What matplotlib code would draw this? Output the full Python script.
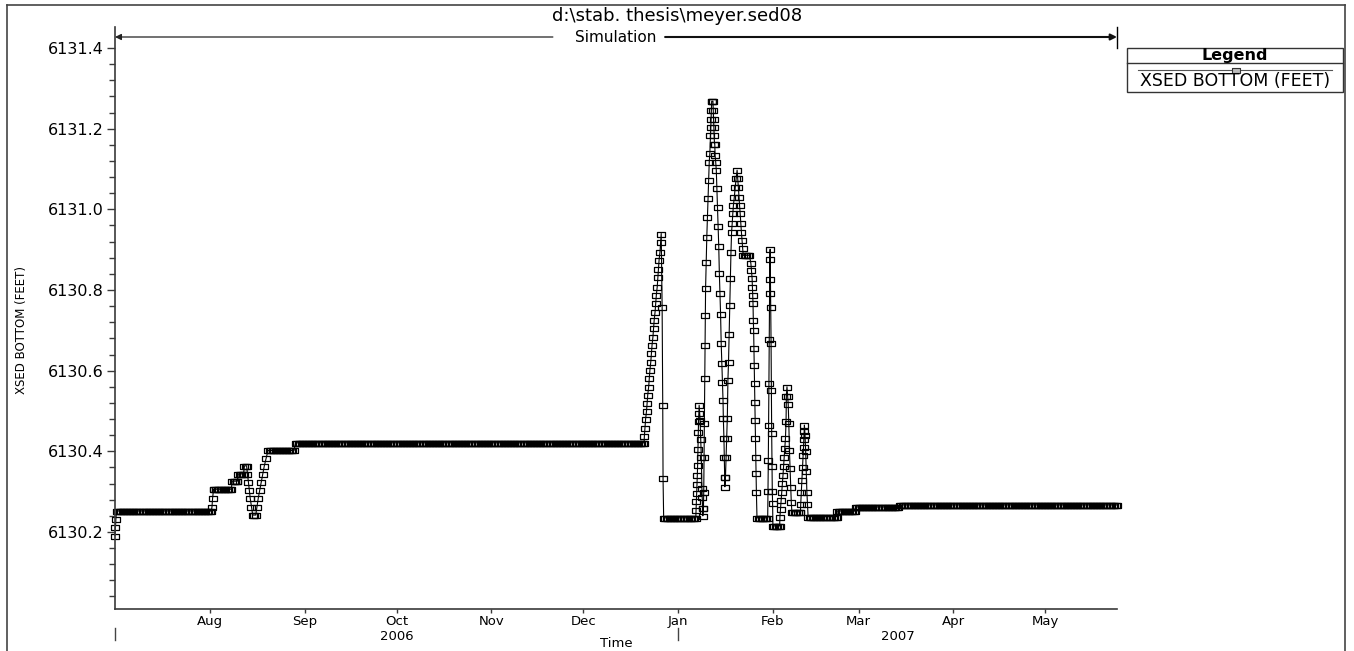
import numpy as np
import pandas as pd
import matplotlib
matplotlib.use('Agg')
import matplotlib.pyplot as plt
import matplotlib.transforms as mtransforms
from matplotlib.lines import Line2D
from matplotlib.patches import Rectangle

plt.rcParams['font.family'] = 'DejaVu Sans'

start = pd.Timestamp('2006-07-01')
sim_end_day = 327.45

# steady stretches of the bed: first day, last day (days after start), elevation
hold_from = [0.5, 32.5, 38.3, 40.3, 42.3, 45.0, 50.0, 59.0, 179.3, 205.3,
             209.8, 215.0, 221.2, 226.5, 236.0, 242.0, 256.5]
hold_to = [31.5, 38.0, 40.0, 42.0, 43.0, 46.0, 58.5, 172.9, 189.8, 207.3,
           213.3, 217.2, 224.0, 235.9, 241.8, 256.0, 327.4]
hold_elev = [6130.252, 6130.306, 6130.326, 6130.344, 6130.364, 6130.242,
             6130.402, 6130.421, 6130.235, 6130.886, 6130.235, 6130.215,
             6130.250, 6130.238, 6130.252, 6130.262, 6130.267]

# output between the steady stretches (days after start, elevation)
move_day = [
    0.0, 0.15, 0.3,
    31.7, 31.9, 32.2,
    43.3, 43.6, 43.9, 44.2, 44.6,
    46.4, 46.8, 47.3, 47.8, 48.3, 48.8, 49.4,
    173.0, 173.2, 173.4, 173.7, 173.9, 174.1, 174.4, 174.6, 174.8, 175.1,
    175.3, 175.5, 175.8, 176.0, 176.2, 176.5, 176.7, 176.9, 177.2, 177.4,
    177.6, 177.8, 178.1, 178.3, 178.5,
    178.8, 179.0, 179.1,
    189.9, 190.0, 190.1, 190.2, 190.3, 190.4, 190.5, 190.6, 190.7, 190.8,
    190.9,
    191.2, 191.4, 191.6, 191.8, 191.9, 192.0, 192.1,
    192.3, 192.4, 192.5, 192.6, 192.7, 192.8, 192.9, 193.0, 193.2, 193.4,
    193.6, 193.8, 194.0, 194.2, 194.4, 194.6, 194.7, 194.8, 194.9, 195.0,
    195.2, 195.4,
    195.5, 195.6, 195.7, 195.8, 195.9, 196.0, 196.1, 196.3, 196.5, 196.7,
    196.9, 197.1, 197.3, 197.5, 197.7, 197.9, 198.1, 198.3, 198.5, 198.7,
    198.8, 199.0, 199.1, 199.2, 199.3,
    199.5, 199.7, 199.9, 200.1, 200.3, 200.5, 200.7, 200.9, 201.1, 201.3,
    201.5, 201.7, 201.9, 202.1, 202.4, 202.7, 203.0, 203.3,
    203.5, 203.7, 203.9, 204.1, 204.3, 204.5, 204.7, 204.9, 205.1,
    207.8, 208.0, 208.2, 208.3, 208.4, 208.5, 208.6, 208.7, 208.8, 208.9,
    209.0, 209.1, 209.2, 209.3, 209.4, 209.5, 209.6,
    213.4, 213.5, 213.6, 213.7, 213.8, 213.9, 214.0, 214.1,
    214.2, 214.3, 214.4, 214.5, 214.6, 214.7, 214.8, 214.9,
    217.3, 217.5, 217.7, 217.9, 218.1, 218.3, 218.5, 218.7, 218.9, 219.1,
    219.3, 219.4, 219.6,
    219.8, 220.0, 220.2, 220.4, 220.6, 220.8, 221.0,
    224.1, 224.3, 224.5, 224.7, 224.9, 225.0, 225.1, 225.2, 225.3,
    225.5, 225.7, 225.9, 226.1, 226.3,
]
move_elev = [
    6130.191, 6130.212, 6130.233,
    6130.263, 6130.284, 6130.306,
    6130.344, 6130.324, 6130.304, 6130.283, 6130.262,
    6130.262, 6130.283, 6130.304, 6130.324, 6130.344, 6130.364, 6130.383,
    6130.438, 6130.459, 6130.480, 6130.500, 6130.519, 6130.540, 6130.560,
    6130.581, 6130.601, 6130.622, 6130.643, 6130.663, 6130.684, 6130.705,
    6130.725, 6130.746, 6130.767, 6130.787, 6130.808, 6130.831, 6130.851,
    6130.874, 6130.895, 6130.919, 6130.940,
    6130.757, 6130.515, 6130.333,
    6130.255, 6130.277, 6130.296, 6130.320, 6130.341, 6130.366, 6130.405,
    6130.449, 6130.475, 6130.496, 6130.514,
    6130.478, 6130.430, 6130.387, 6130.308, 6130.287, 6130.260, 6130.240,
    6130.260, 6130.300, 6130.386, 6130.469, 6130.582, 6130.663, 6130.738,
    6130.804, 6130.870, 6130.932, 6130.981, 6131.027, 6131.072, 6131.118,
    6131.140, 6131.184, 6131.204, 6131.225, 6131.246, 6131.268, 6131.268,
    6131.268,
    6131.246, 6131.225, 6131.204, 6131.184, 6131.163, 6131.163, 6131.134,
    6131.118, 6131.097, 6131.052, 6131.005, 6130.958, 6130.909, 6130.841,
    6130.792, 6130.740, 6130.668, 6130.618, 6130.573, 6130.527, 6130.482,
    6130.432, 6130.387, 6130.337, 6130.312,
    6130.337, 6130.387, 6130.432, 6130.482, 6130.577, 6130.622, 6130.692,
    6130.763, 6130.829, 6130.895, 6130.944, 6130.965, 6130.990, 6131.010,
    6131.031, 6131.056, 6131.077, 6131.097,
    6131.077, 6131.056, 6131.031, 6131.010, 6130.990, 6130.965, 6130.944,
    6130.925, 6130.905,
    6130.866, 6130.849, 6130.829, 6130.808, 6130.787, 6130.767, 6130.725,
    6130.701, 6130.655, 6130.614, 6130.569, 6130.523, 6130.478, 6130.432,
    6130.387, 6130.345, 6130.300,
    6130.302, 6130.378, 6130.465, 6130.570, 6130.678, 6130.792, 6130.876,
    6130.901,
    6130.826, 6130.757, 6130.669, 6130.552, 6130.446, 6130.364, 6130.302,
    6130.271,
    6130.238, 6130.258, 6130.279, 6130.300, 6130.321, 6130.341, 6130.364,
    6130.387, 6130.407, 6130.432, 6130.475, 6130.538, 6130.560,
    6130.538, 6130.517, 6130.469, 6130.403, 6130.358, 6130.312, 6130.275,
    6130.270, 6130.300, 6130.330, 6130.360, 6130.390, 6130.410, 6130.430,
    6130.450, 6130.465,
    6130.440, 6130.400, 6130.350, 6130.300, 6130.270,
]

month_days = [31, 62, 92, 123, 153, 184, 215, 243, 274, 304]
month_names = ['Aug', 'Sep', 'Oct', 'Nov', 'Dec', 'Jan', 'Feb', 'Mar', 'Apr', 'May']
year_names = ['2006', '2007']

# twice-daily output through the steady stretches, merged with the moving parts
days = list(move_day)
elev = list(move_elev)
for a, b, z in zip(hold_from, hold_to, hold_elev):
    d = list(np.arange(a, b, 0.5)) + [b]
    days += d
    elev += [z] * len(d)
order = np.argsort(days, kind='stable')
days = np.array(days)[order]
elev = np.array(elev)[order]
times = start + pd.to_timedelta(days, unit='D')

W, H = 1354, 651
fig = plt.figure(figsize=(W / 100, H / 100), dpi=100)

def fx(px):
    return px / W

def fy(py):
    return 1 - py / H

ax = fig.add_axes([fx(115), fy(609), fx(1117) - fx(115), fy(27) - fy(609)])

box = np.array([(-1, -0.6), (1, -0.6), (1, 0.6), (-1, 0.6), (-1, -0.6)])
ax.plot(times, elev, color='black', lw=0.8, marker=box, ms=6.0,
        mfc='none', mec='black', mew=0.9, clip_on=False)

t0 = start
t1 = start + pd.Timedelta(days=sim_end_day)
ax.set_xlim(t0, t1)
ax.set_ylim(6130.009, 6131.452)

for s in ['top', 'right']:
    ax.spines[s].set_visible(False)
for s in ['left', 'bottom']:
    ax.spines[s].set_color('#3a3a3a')
    ax.spines[s].set_linewidth(1.2)

major = np.arange(6130.2, 6131.41, 0.2)
ax.set_yticks(major)
ax.set_yticklabels([f'{v:.1f}' for v in major])
minor = [v for v in np.arange(6130.04, 6131.4, 0.04)
         if abs((v - 6130.2) / 0.2 - round((v - 6130.2) / 0.2)) > 0.01]
ax.set_yticks(minor, minor=True)
ax.tick_params(axis='y', which='major', length=6, width=1, color='#3a3a3a',
               labelsize=11.5, pad=2)
ax.tick_params(axis='y', which='minor', length=4.5, width=1, color='#3a3a3a')

month_ticks = [start + pd.Timedelta(days=d) for d in month_days]
ax.set_xticks(month_ticks)
ax.set_xticklabels(month_names)
ax.tick_params(axis='x', which='major', length=3, width=1, color='#3a3a3a',
               labelsize=9.5, pad=1.2)
ax.tick_params(axis='x', which='minor', length=0)

# year labels and year dividers under the month labels
tr = mtransforms.blended_transform_factory(ax.transData, ax.transAxes)
jan = start + pd.Timedelta(days=184)
for t in [t0, jan]:
    ax.plot([t, t], [-0.033, -0.053], color='#444444', lw=1, transform=tr,
            clip_on=False)
mid06 = t0 + (jan - t0) / 2
mid07 = jan + (t1 - jan) / 2
yr = (609 - 637) / 582
ax.text(mid06, yr, year_names[0], transform=tr, ha='center', va='center',
        fontsize=9.5)
ax.text(mid07, yr, year_names[1], transform=tr, ha='center', va='center',
        fontsize=9.5)
fig.text(fx(616), fy(643.5), 'Time', ha='center', va='center', fontsize=9.5)

# simulation window arrow across the top
ya = (609 - 37) / 582
ax.annotate('', xy=(0, ya), xytext=(0.437, ya), xycoords='axes fraction',
            arrowprops=dict(arrowstyle='-|>', lw=0.9, color='#222222',
                            mutation_scale=9, shrinkA=0, shrinkB=0))
ax.annotate('', xy=(1, ya), xytext=(0.549, ya), xycoords='axes fraction',
            arrowprops=dict(arrowstyle='-|>', lw=1.5, color='#111111',
                            mutation_scale=9, shrinkA=0, shrinkB=0))
ax.plot([1, 1], [0.964, 1.0], color='black', lw=1, transform=ax.transAxes,
        clip_on=False)
ax.text(0.5, ya, 'Simulation', transform=ax.transAxes, ha='center',
        va='center', fontsize=11)

fig.text(fx(677), fy(16), 'd:\\stab. thesis\\meyer.sed08', ha='center',
         va='center', fontsize=13)
fig.text(fx(22), fy(330), 'XSED BOTTOM (FEET)', rotation=90, ha='center',
         va='center', fontsize=8.5)

# legend panel
fig.add_artist(Rectangle((fx(1127), fy(92)), fx(1343) - fx(1127),
                         fy(48) - fy(92), transform=fig.transFigure,
                         fill=False, ec='#333333', lw=1))
fig.add_artist(Line2D([fx(1127), fx(1343)], [fy(63), fy(63)],
                      transform=fig.transFigure, color='#333333', lw=1))
fig.text(fx(1235), fy(55.5), 'Legend', ha='center', va='center',
         fontsize=11.5, fontweight='bold')
fig.add_artist(Line2D([fx(1138), fx(1332)], [fy(70), fy(70)],
                      transform=fig.transFigure, color='#555555', lw=0.8))
fig.add_artist(Line2D([fx(1236)], [fy(70)], transform=fig.transFigure,
                      marker=box, ms=6.0, mfc='#bbbbbb', mec='#333333',
                      mew=0.8, lw=0))
fig.text(fx(1235), fy(81), 'XSED BOTTOM (FEET)', ha='center', va='center',
         fontsize=12.5)

# page frame
for xs, ys in [([7, 7], [5, 651]), ([7, 1345], [5, 5]), ([1345, 1345], [5, 651])]:
    fig.add_artist(Line2D([fx(v) for v in xs], [fy(v) for v in ys],
                          transform=fig.transFigure, color='#444444', lw=1.2))

fig.savefig('out.png', dpi=100)
